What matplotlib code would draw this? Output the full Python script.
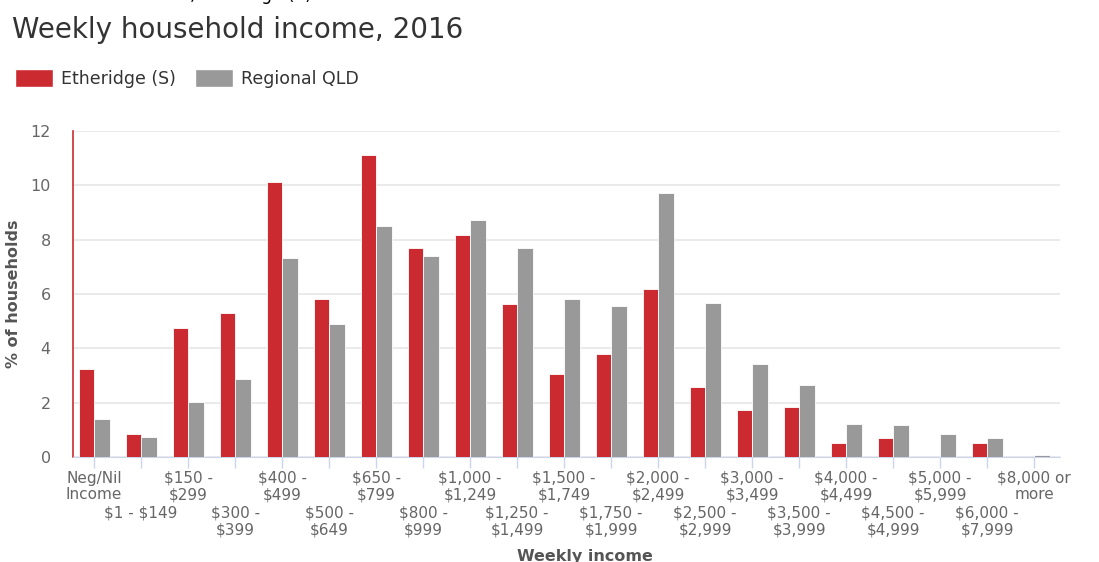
import matplotlib.pyplot as plt
from matplotlib.patches import Patch
import numpy as np

plt.rcParams['font.family'] = 'DejaVu Sans'
plt.rcParams['text.parse_math'] = False

categories = ["Neg/Nil\nIncome", "$1 - $149", "$150 -\n$299", "$300 -\n$399", "$400 -\n$499",
              "$500 -\n$649", "$650 -\n$799", "$800 -\n$999", "$1,000 -\n$1,249", "$1,250 -\n$1,499",
              "$1,500 -\n$1,749", "$1,750 -\n$1,999", "$2,000 -\n$2,499", "$2,500 -\n$2,999",
              "$3,000 -\n$3,499", "$3,500 -\n$3,999", "$4,000 -\n$4,499", "$4,500 -\n$4,999",
              "$5,000 -\n$5,999", "$6,000 -\n$7,999", "$8,000 or\nmore"]
etheridge = [3.25, 0.86, 4.76, 5.31, 10.13, 5.80, 11.13, 7.71, 8.18, 5.62,
             3.07, 3.80, 6.17, 2.58, 1.72, 1.85, 0.50, 0.69, 0.0, 0.50, 0.0]
regional = [1.41, 0.74, 2.02, 2.88, 7.34, 4.90, 8.49, 7.40, 8.74, 7.71,
            5.80, 5.56, 9.72, 5.68, 3.44, 2.64, 1.23, 1.18, 0.86, 0.69, 0.07]

red = '#cc2a31'
grey = '#999999'
label_col = '#666666'

fig = plt.figure(figsize=(10.99, 5.62), dpi=100)
ax = fig.add_axes([73 / 1099, 1 - 457 / 562, 987 / 1099, 326 / 562])

x = np.arange(len(categories))
w = 0.33
ax.bar(x - w / 2, etheridge, w, color=red, edgecolor='white', linewidth=0.6, zorder=3)
ax.bar(x + w / 2, regional, w, color=grey, edgecolor='white', linewidth=0.6, zorder=3)

ax.set_xlim(-0.45, len(categories) - 0.45)
ax.set_ylim(0, 12)
ax.set_yticks(range(0, 13, 2))
ax.grid(axis='y', color='#e6e6e6', linewidth=1.2, zorder=0)

# even labels on the upper row (major ticks), odd ones on the lower row (minor ticks)
ax.set_xticks(x[::2])
ax.set_xticklabels(categories[::2], fontsize=11, color=label_col, linespacing=1.12)
ax.set_xticks(x[1::2], minor=True)
ax.set_xticklabels(categories[1::2], minor=True, fontsize=11, color=label_col, linespacing=1.12)
ax.tick_params(axis='x', which='both', length=8, color='#ccd6eb', width=1)
ax.tick_params(axis='x', which='major', pad=2)
ax.tick_params(axis='x', which='minor', pad=27)
ax.tick_params(axis='y', length=0, labelsize=11.5, labelcolor=label_col, pad=16)

for s in ['top', 'right']:
    ax.spines[s].set_visible(False)
ax.spines['bottom'].set_color('#ccd6eb')
ax.spines['left'].set_color(red)
ax.spines['left'].set_linewidth(1.2)

ax.set_ylabel('% of households', fontsize=11.5, fontweight='bold', color='#555555', labelpad=7)
fig.text(585 / 1099, 1 - 557 / 562, 'Weekly income', fontsize=11.5, fontweight='bold',
         color='#555555', ha='center', va='center')

fig.text(34 / 1099, 1.0, 'Household income, Etheridge (S)', fontsize=12.2, color='black',
         va='baseline')
fig.text(12 / 1099, 1 - 30 / 562, 'Weekly household income, 2016', fontsize=20,
         color='#333333', va='center')

handles = [Patch(facecolor=red, edgecolor='white', label='Etheridge (S)'),
           Patch(facecolor=grey, edgecolor='white', label='Regional QLD')]
fig.legend(handles=handles, loc='upper left', bbox_to_anchor=(-1 / 1099, 1 - 53 / 562),
           ncol=2, frameon=False, fontsize=12.5, handlelength=2.2, handleheight=1.25,
           handletextpad=0.45, columnspacing=1.1, labelcolor='#333333')

fig.savefig('out.png', dpi=100)
